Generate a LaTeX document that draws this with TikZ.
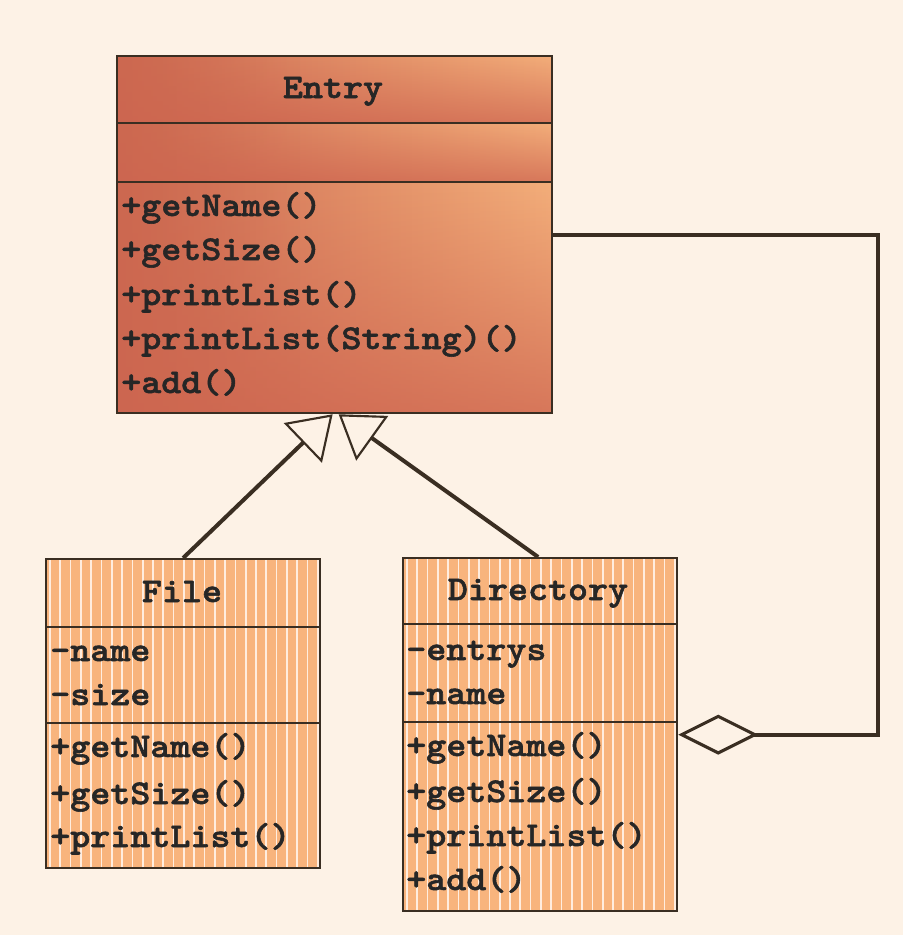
\documentclass[tikz,border=0pt]{standalone}
\usepackage{fontspec}
\newfontfamily\umlfont[FakeStretch=1.1,FakeBold=1.6]{lmmonolt10-bold.otf}
\usetikzlibrary{arrows.meta,fadings,calc}
\definecolor{bgcol}{HTML}{FDF2E6}
\definecolor{edge}{HTML}{3A2E22}
\definecolor{eL}{HTML}{CC6850}
\definecolor{eR}{HTML}{F3AE7A}
\definecolor{eD}{HTML}{CE6550}
\definecolor{stripebg}{HTML}{F8B47D}
\definecolor{stripe}{HTML}{FFEDDF}
\begin{document}
\begin{tikzpicture}[x=0.75pt,y=-0.75pt,
  txt/.style={font=\umlfont\fontsize{26}{30}\selectfont, inner sep=0pt, anchor=base west, text=black!85},
  ttl/.style={font=\umlfont\fontsize{26}{30}\selectfont, inner sep=0pt, anchor=base, text=black!85},
  boxframe/.style={draw=edge, line width=1.7pt, rectangle, inner sep=0pt, anchor=north west},
  sep/.style={draw=edge, line width=1.7pt},
  inh/.style={draw=edge, line width=3pt, -{Triangle[length=31pt, width=41pt, fill=bgcol, line width=1.6pt]}},
  agg/.style={draw=edge, line width=2.8pt, -{Diamond[length=60pt, width=30pt, fill=bgcol, line width=2.3pt]}}]
\fill[bgcol] (0,0) rectangle (903,935);
\useasboundingbox (0,0) rectangle (903,935);

% ---- Entry shading
\foreach \ya/\yb in {55/123,123/182,182/412}{
  \shade[left color=eL, right color=eR] (116,\ya) rectangle (551,\yb);
  \fill[eD, path fading=north, fill opacity=0.75] (116,\ya) rectangle (551,\yb);
}
\fill[eL, path fading=east, fill opacity=0.5] (116,55) rectangle (300,412);

% ---- striped fills
\begin{scope}
\clip (45,558) rectangle (319,867);
\fill[stripebg] (45,558) rectangle (319,867);
\foreach \i in {0,...,27} \draw[stripe, line width=1.3pt] (50+\i*10.3,558) -- (50+\i*10.3,867);
\end{scope}
\begin{scope}
\clip (402,557) rectangle (676,910);
\fill[stripebg] (402,557) rectangle (676,910);
\foreach \i in {0,...,27} \draw[stripe, line width=1.3pt] (407+\i*10.3,557) -- (407+\i*10.3,910);
\end{scope}

% ---- frames
\node[boxframe, minimum width=326.25pt, minimum height=267.75pt] (entry) at (116,55) {};
\node[boxframe, minimum width=205.5pt, minimum height=231.75pt] (file) at (45,558) {};
\node[boxframe, minimum width=205.5pt, minimum height=264.75pt] (dir) at (402,557) {};

\draw[sep] (116,123) -- (551,123);
\draw[sep] (116,182) -- (551,182);
\draw[sep] (45,627) -- (319,627);
\draw[sep] (45,723) -- (319,723);
\draw[sep] (402,624) -- (676,624);
\draw[sep] (402,722) -- (676,722);

% ---- texts
\node[ttl] (tEntry) at (333,98) {Entry};
\node[txt] (e1) at (121,216) {+getName()};
\node[txt] (e2) at (121,260) {+getSize()};
\node[txt] (e3) at (121,305) {+printList()};
\node[txt] (e4) at (121,349) {+printList(String)()};
\node[txt] (e5) at (121,393) {+add()};

\node[ttl] (tFile) at (182,602) {File};
\node[txt] (f1) at (50,661) {-name};
\node[txt] (f2) at (50,705) {-size};
\node[txt] (f3) at (50,757) {+getName()};
\node[txt] (f4) at (50,804) {+getSize()};
\node[txt] (f5) at (50,847) {+printList()};

\node[ttl] (tDir) at (538,600) {Directory};
\node[txt] (d1) at (406,660) {-entrys};
\node[txt] (d2) at (406,704) {-name};
\node[txt] (d3) at (406,756) {+getName()};
\node[txt] (d4) at (406,802) {+getSize()};
\node[txt] (d5) at (406,846) {+printList()};
\node[txt] (d6) at (406,890) {+add()};

% ---- connectors
\draw[inh] (file.north) -- ($(entry.south)+(-2,0)$);
\draw[inh] ($(dir.north)+(-2,0)$) -- ($(entry.south)+(4,0)$);
\draw[agg] (entry.east) -- ++(325,0) |- (dir.east);
\end{tikzpicture}
\end{document}
